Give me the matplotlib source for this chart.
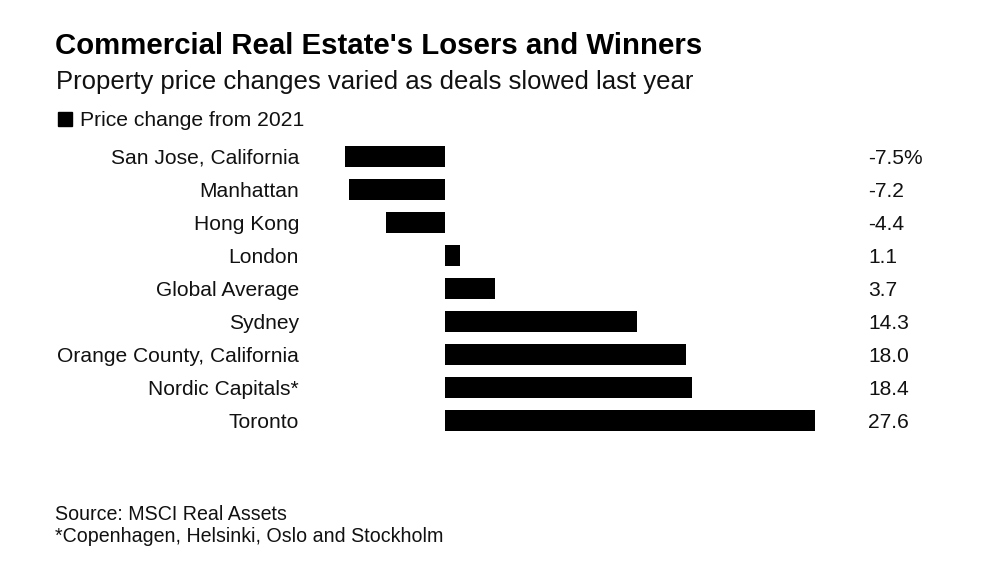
import matplotlib
matplotlib.use("Agg")
import matplotlib.pyplot as plt
import matplotlib.transforms as mtransforms

plt.rcParams['font.family'] = ['Liberation Sans', 'DejaVu Sans']

cities = ["San Jose, California", "Manhattan", "Hong Kong", "London", "Global Average",
          "Sydney", "Orange County, California", "Nordic Capitals*", "Toronto"]
changes = [-7.5, -7.2, -4.4, 1.1, 3.7, 14.3, 18.0, 18.4, 27.6]
value_labels = ["-7.5%", "-7.2", "-4.4", "1.1", "3.7", "14.3", "18.0", "18.4", "27.6"]

W, H = 1000, 580
fig = plt.figure(figsize=(W / 100, H / 100), dpi=100)

# axes placed in pixel terms: zero line ~x=445, 13.4 px per point
left_px, right_px = 344.5, 815
top_px, bot_px = 140, 437
ax = fig.add_axes([left_px / W, 1 - bot_px / H, (right_px - left_px) / W, (bot_px - top_px) / H])
ax.barh(range(len(cities)), changes, height=0.62, color="black")
ax.set_xlim(-7.5, 27.6)
ax.set_ylim(len(cities) - 0.5, -0.5)
ax.axis("off")

# text rows nudged down ~2px to line up with bar centres
trans = mtransforms.blended_transform_factory(fig.transFigure, ax.transData) + \
    mtransforms.ScaledTranslation(0, -2 / 100, fig.dpi_scale_trans)
for i, (c, v) in enumerate(zip(cities, value_labels)):
    ax.text(299 / W, i, c, transform=trans, ha="right", va="center", fontsize=15.1, color="#111111")
    ax.text(868 / W, i, v, transform=trans, ha="left", va="center", fontsize=15.1, color="#111111")

fig.text(55 / W, 1 - 46 / H, "Commercial Real Estate's Losers and Winners", fontsize=21.2,
         fontweight="bold", ha="left", va="center", color="black")
fig.text(56 / W, 1 - 82 / H, "Property price changes varied as deals slowed last year", fontsize=18.5,
         ha="left", va="center", color="#111111")
fig.patches.append(plt.Rectangle((58 / W, 1 - 126 / H), 14 / W, 14 / H, transform=fig.transFigure,
                                 color="black"))
fig.text(80 / W, 1 - 120 / H, "Price change from 2021", fontsize=15.2, ha="left", va="center",
         color="#111111")

fig.text(55 / W, 1 - 515 / H, "Source: MSCI Real Assets", fontsize=14.1, ha="left", va="center",
         color="#111111")
fig.text(55 / W, 1 - 536 / H, "*Copenhagen, Helsinki, Oslo and Stockholm", fontsize=14.1,
         ha="left", va="center", color="#111111")

fig.savefig("out.png", dpi=100, facecolor="white")
